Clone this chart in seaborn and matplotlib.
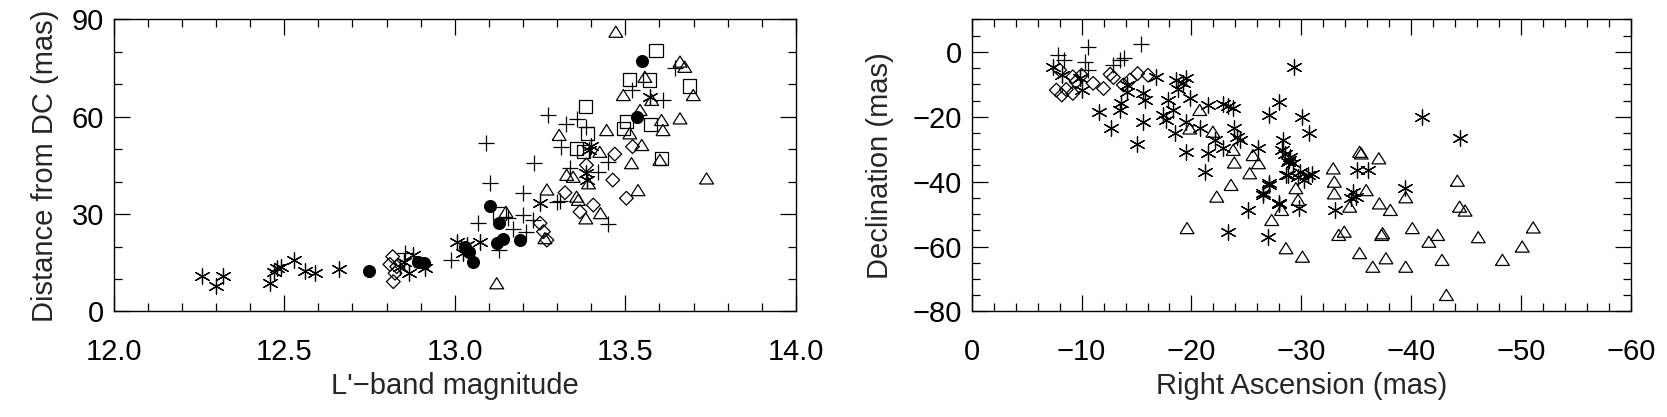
import numpy as np
import pandas as pd
import matplotlib
matplotlib.use("Agg")
import matplotlib.pyplot as plt
import seaborn as sns
from matplotlib.ticker import MultipleLocator, FormatStrFormatter

sns.set_style("ticks")
plt.rcParams['font.family'] = ['Liberation Sans Narrow', 'Liberation Sans', 'DejaVu Sans']

# ---- left panel: L'-band magnitude vs distance from DC ----
ast_mag = [12.26, 12.30, 12.32, 12.46, 12.48, 12.49, 12.47, 12.53, 12.56, 12.59, 12.66,
           12.84, 12.867, 12.878, 12.913, 12.85, 13.006, 13.035, 13.074, 13.025,
           13.25, 13.386, 13.388, 13.392, 13.40, 13.572]
ast_dist = [10.9, 7.9, 10.9, 8.7, 13.3, 13.8, 12.3, 15.9, 12.6, 11.8, 13.0,
            13.8, 12.0, 17.4, 13.3, 15.3, 21.5, 20.5, 21.5, 17.9,
            33.3, 42.6, 40.5, 49.8, 51.0, 66.2]

plus_mag = [12.854, 12.99, 13.103, 13.199, 13.069, 13.2, 13.17, 13.13, 13.21, 13.157, 13.308,
            13.23, 13.091, 13.232, 13.30, 13.338, 13.42, 13.45, 13.45, 13.274, 13.326,
            13.357, 13.386, 13.311, 13.518, 13.61, 13.645]
plus_dist = [17.9, 15.9, 39.5, 36.4, 27.2, 29.7, 25.3, 18.9, 24.6, 28.7, 34.1,
             28.2, 51.8, 45.7, 33.8, 44.1, 43.1, 46.2, 27.0, 60.5, 57.8,
             59.2, 56.9, 50.8, 68.2, 65.2, 74.9]

dia_mag = [12.818, 12.82, 12.83, 12.825, 12.81, 13.25, 13.26, 13.27, 13.323, 13.386,
           13.463, 13.503, 13.367, 13.406, 13.521, 13.469]
dia_dist = [16.9, 9.2, 13.8, 11.8, 14.5, 27.2, 24.6, 22.0, 36.6, 45.1,
            40.5, 34.9, 30.7, 32.8, 50.8, 48.5]

tri_mag = [13.15, 13.123, 13.27, 13.264, 13.472, 13.66, 13.674, 13.557, 13.494, 13.699,
           13.577, 13.543, 13.606, 13.61, 13.66, 13.513, 13.548, 13.445, 13.306, 13.425,
           13.518, 13.601, 13.738, 13.328, 13.347, 13.357, 13.362, 13.392, 13.537, 13.384,
           13.427]
tri_dist = [30.7, 8.7, 37.6, 22.6, 86.2, 77.0, 75.4, 72.3, 66.7, 66.7,
            65.2, 62.1, 59.0, 55.9, 59.5, 54.9, 51.3, 55.9, 54.4, 49.2,
            45.7, 46.7, 41.0, 42.1, 41.5, 35.4, 34.4, 39.5, 37.4, 28.7,
            30.3]

sq_mag = [13.13, 13.59, 13.513, 13.57, 13.687, 13.384, 13.574, 13.503, 13.494, 13.357,
          13.389, 13.377, 13.606]
sq_dist = [30.3, 80.4, 71.6, 71.3, 69.5, 63.1, 57.5, 58.5, 56.4, 50.3,
           54.9, 49.2, 47.2]

circ_mag = [12.75, 12.893, 12.91, 13.042, 13.052, 13.103, 13.13, 13.123, 13.142, 13.19,
            13.548, 13.533, 13.03]
circ_dist = [12.6, 15.3, 15.0, 18.4, 15.3, 32.5, 27.2, 21.0, 22.2, 22.0,
             77.3, 59.8, 20.0]

# ---- right panel: RA vs Dec ----
ast_ra = [-7.4, -9.85, -10.0, -11.6, -12.7, -15.0, -14.1, -14.1, -13.6, -13.5, -15.6, -15.75,
          -15.6, -16.8, -17.9, -17.4, -17.7, -18.3, -18.5, -18.6, -18.8, -19.2, -19.5, -19.85,
          -19.5, -19.5, -20.75, -21.2, -21.5, -21.5, -22.1, -22.9, -22.9, -23.3, -23.8, -23.9,
          -24.1, -24.4, -23.3, -25.1, -26.1, -26.5, -27.1, -27.0, -27.05, -28.0, -28.0, -28.3,
          -28.2, -28.6, -28.9, -29.3, -30.1, -30.7, -28.5, -29.0, -29.2, -28.8, -29.7, -30.2,
          -30.6, -31.0, -29.9, -28.8, -27.1, -26.5, -28.0, -29.8, -35.1, -36.05, -34.7, -35.0,
          -34.5, -33.1, -39.4, -41.0, -44.4, -8.2]
ast_dec = [-4.8, -8.2, -11.8, -18.5, -23.6, -28.4, -10.2, -12.4, -15.9, -17.9, -12.8, -14.9,
           -21.5, -7.7, -14.9, -19.5, -21.0, -17.9, -25.1, -8.7, -11.3, -9.7, -8.2, -14.3,
           -21.5, -30.8, -23.6, -36.9, -16.4, -31.3, -27.2, -29.7, -16.1, -16.7, -17.2, -23.6,
           -26.2, -27.2, -55.4, -48.7, -29.7, -44.1, -41.0, -56.9, -19.5, -15.4, -46.9, -27.2,
           -30.2, -37.9, -33.3, -4.6, -20.2, -24.9, -31.5, -32.5, -34.3, -33.8, -38.5, -39.5,
           -38.0, -37.5, -37.0, -37.9, -40.5, -43.6, -46.7, -48.2, -36.4, -36.4, -43.1, -44.6,
           -45.0, -48.7, -42.0, -20.0, -26.6, -7.0]

plus_ra = [-7.88, -8.39, -10.6, -10.3, -10.6, -12.9, -13.5, -13.9, -15.45]
plus_dec = [-1.0, -2.4, 1.5, -3.1, -5.6, -4.1, -2.6, -2.0, 2.3]

dia_ra = [-7.7, -8.2, -8.6, -9.2, -9.5, -10.0, -9.2, -8.0, -11.05, -12.0, -12.6, -12.9,
          -14.4, -15.1, -16.05, -13.8]
dia_dec = [-11.8, -13.3, -11.6, -12.8, -9.2, -7.2, -7.7, -5.6, -9.7, -11.3, -6.9, -7.9,
           -8.7, -6.7, -7.2, -10.2]

tri_ra = [-20.75, -19.85, -21.95, -23.8, -23.9, -25.6, -26.1, -25.3, -23.6, -22.3, -19.6,
          -27.3, -28.2, -28.6, -29.5, -29.7, -30.1, -32.9, -33.0, -33.0, -34.4, -33.4, -33.9,
          -35.3, -35.45, -37.05, -35.9, -37.1, -38.1, -39.5, -37.3, -37.4, -40.1, -35.3, -36.5,
          -37.7, -39.5, -41.6, -42.4, -42.8, -43.2, -44.2, -44.4, -44.9, -46.1, -48.3, -50.1,
          -51.1]
tri_dec = [-17.9, -23.6, -24.6, -30.2, -34.1, -31.8, -34.3, -37.4, -41.0, -44.6, -54.3,
           -51.8, -48.7, -60.5, -42.0, -45.6, -63.1, -35.9, -40.0, -43.6, -47.7, -56.4, -55.4,
           -30.8, -31.3, -32.8, -42.6, -46.7, -48.7, -44.8, -56.4, -55.9, -54.3, -62.0, -66.2,
           -63.6, -66.2, -58.5, -56.4, -64.1, -74.9, -39.7, -47.7, -48.9, -57.1, -64.1, -60.0,
           -54.1]

# IDL-like symbols
asterisk = (6, 2, 0)
triangle = [(-1, -0.8), (1, -0.8), (0, 0.8), (-1, -0.8)]

fig = plt.figure(figsize=(16.67, 4.17), dpi=100)
ax1 = fig.add_axes([0.0681, 0.253, 0.4094, 0.7005])
ax2 = fig.add_axes([0.5829, 0.253, 0.3955, 0.7005])


def draw(ax, x, y, marker, size, filled=False):
    sns.scatterplot(x=x, y=y, ax=ax, marker=marker, s=size ** 2, color='k', linewidth=0.9)
    coll = ax.collections[-1]
    if filled:
        coll.set_facecolor('k')
        coll.set_edgecolor('k')
    else:
        coll.set_edgecolor('k')
        if marker in ('s', 'D') or isinstance(marker, list):
            coll.set_facecolor('none')


draw(ax1, ast_mag, ast_dist, asterisk, 11)
draw(ax1, plus_mag, plus_dist, '+', 11.5)
draw(ax1, dia_mag, dia_dist, 'D', 7.0)
draw(ax1, tri_mag, tri_dist, triangle, 10)
draw(ax1, sq_mag, sq_dist, 's', 9.5)
draw(ax1, circ_mag, circ_dist, 'o', 8.5, filled=True)

draw(ax2, ast_ra, ast_dec, asterisk, 11)
draw(ax2, plus_ra, plus_dec, '+', 11.5)
draw(ax2, dia_ra, dia_dec, 'D', 7.0)
draw(ax2, tri_ra, tri_dec, triangle, 10)

ax1.set_xlim(12.0, 14.0)
ax1.set_ylim(0, 90)
ax1.xaxis.set_major_locator(MultipleLocator(0.5))
ax1.xaxis.set_minor_locator(MultipleLocator(0.1))
ax1.xaxis.set_major_formatter(FormatStrFormatter('%.1f'))
ax1.yaxis.set_major_locator(MultipleLocator(30))
ax1.yaxis.set_minor_locator(MultipleLocator(10))

ax2.set_xlim(0, -60)
ax2.set_ylim(-80, 10)
ax2.xaxis.set_major_locator(MultipleLocator(10))
ax2.xaxis.set_minor_locator(MultipleLocator(2))
ax2.yaxis.set_major_locator(MultipleLocator(20))
ax2.yaxis.set_minor_locator(MultipleLocator(5))

for ax, xl, yl, ylx in [(ax1, "L'\u2212band magnitude", "Distance from DC (mas)", -0.100),
                        (ax2, "Right Ascension (mas)", "Declination (mas)", -0.139)]:
    for s in ax.spines.values():
        s.set_linewidth(1.0)
        s.set_color('k')
    ax.tick_params(which='both', direction='in', top=True, right=True, colors='k',
                   labelsize=21, width=0.9)
    ax.tick_params(which='major', length=11.5)
    ax.tick_params(which='minor', length=5.5)
    ax.tick_params(axis='x', which='both', pad=19)
    ax.tick_params(axis='y', which='both', pad=7)
    ax.set_xlabel(xl, fontsize=21)
    ax.set_ylabel(yl, fontsize=21)
    ax.xaxis.set_label_coords(0.5, -0.256)
    ax.xaxis.label.set_va('center')
    ax.yaxis.set_label_coords(ylx, 0.5)
    ax.yaxis.label.set_va('center')

fig.savefig('out.png', dpi=100, facecolor='white')
